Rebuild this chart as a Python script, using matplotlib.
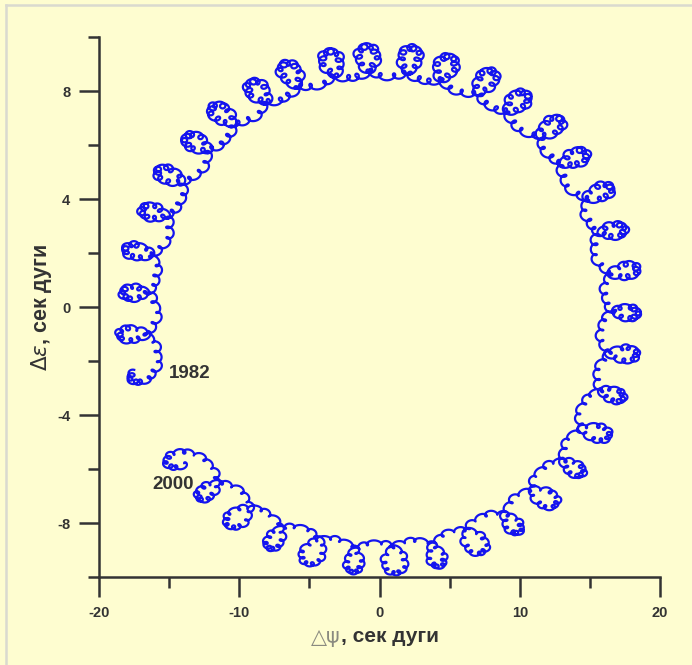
import matplotlib.pyplot as plt
from matplotlib.ticker import MultipleLocator
import numpy as np

# Nutation series terms (IAU 1980): multipliers of l, l', F, D, Omega
# and amplitudes in 0.0001 arcsec for longitude (psi) and obliquity (eps)
arg_l = [0, 0, 0, 0, 0, 0, 0, 0, 1, 0, 1, 1, -1, 0, 1, -1, -1, 1]
arg_lp = [0, 0, 0, 1, 1, -1, 0, 0, 0, 0, 0, 0, 0, 0, 0, 0, 0, 0]
arg_F = [0, 0, 2, 0, 2, 2, 2, 2, 0, 2, 2, 0, 2, 0, 0, 0, 2, 2]
arg_D = [0, 0, -2, 0, -2, -2, -2, 0, 0, 0, 0, -2, 0, 2, 0, 0, 2, 0]
arg_Om = [1, 2, 2, 0, 2, 2, 1, 2, 0, 1, 2, 0, 2, 0, 1, 1, 2, 1]
psi_amp = [-171996, 2062, -13187, 1426, -517, 217, 129, -2274, 712, -386,
           -301, -158, 123, 63, 63, -58, -59, -51]
eps_amp = [92025, -895, 5736, 54, 224, -95, -70, 977, -7, 200,
           129, -1, -53, -2, -33, 32, 26, 27]

year_start = 1982.3
year_end = 2000.0

# fundamental arguments at J2000 and rates (deg, deg per century)
fund0 = np.array([134.96340251, 357.52910918, 93.27209062, 297.85019547, 125.04455501])
fund_rate = np.array([477198.8675605, 35999.0502911, 483202.0174577, 445267.1114469, -1934.1362619])

years = np.arange(year_start, year_end, 0.05 / 365.25)
T = (years - 2000.0) / 100.0
fund = np.radians(fund0[:, None] + fund_rate[:, None] * T[None, :])

dpsi = np.zeros_like(T)
deps = np.zeros_like(T)
for i in range(len(psi_amp)):
    arg = (arg_l[i] * fund[0] + arg_lp[i] * fund[1] + arg_F[i] * fund[2]
           + arg_D[i] * fund[3] + arg_Om[i] * fund[4])
    dpsi += psi_amp[i] * 1e-4 * np.sin(arg)
    deps += eps_amp[i] * 1e-4 * np.cos(arg)

plt.rcParams['font.family'] = ['Liberation Sans', 'DejaVu Sans']
plt.rcParams['axes.unicode_minus'] = False

bg = '#fefdd0'
ink = '#333333'

fig = plt.figure(figsize=(6.92, 6.65), dpi=100, facecolor=bg)
ax = fig.add_axes([0.143, 0.132, 0.811, 0.812], facecolor=bg)

# thin grey frame on the left and top edges
fig.add_artist(plt.Line2D([0.008, 0.008], [0.0, 0.992], color='#dadacf', lw=1.8, transform=fig.transFigure))
fig.add_artist(plt.Line2D([0.008, 1.0], [0.992, 0.992], color='#dadacf', lw=1.8, transform=fig.transFigure))

ax.plot(dpsi, deps, color='#1414ee', lw=1.6)

ax.text(-13.5, -2.45, '1982', fontsize=13.5, fontweight='bold', color=ink, ha='center', va='center')
ax.text(-14.7, -6.55, '2000', fontsize=13.5, fontweight='bold', color=ink, ha='center', va='center')

ax.set_xlim(-20, 20)
ax.set_ylim(-10, 10)
ax.xaxis.set_major_locator(MultipleLocator(10))
ax.xaxis.set_minor_locator(MultipleLocator(5))
ax.set_yticks([-10, -6, -2, 2, 6, 10], minor=True)
ax.set_yticks([-8, -4, 0, 4, 8])

for side in ['top', 'right']:
    ax.spines[side].set_visible(False)
for side in ['left', 'bottom']:
    ax.spines[side].set_linewidth(1.8)
    ax.spines[side].set_color(ink)

ax.tick_params(which='major', length=14.5, width=1.8, color=ink, direction='out', pad=6,
               labelsize=10.5, labelcolor=ink)
ax.tick_params(which='minor', length=8, width=1.8, color=ink, direction='out')
for lab in ax.get_xticklabels() + ax.get_yticklabels():
    lab.set_fontweight('bold')

# x label: thin grey "△ψ" followed by the bold unit text
fig.text(341 / 692, 1 - 637 / 665, '△ψ', fontsize=15, color='#8a8a80', ha='right', va='center',
         family=['DejaVu Sans'])
fig.text(341 / 692, 1 - 637 / 665, ', сек дуги', fontsize=15, fontweight='bold', color=ink,
         ha='left', va='center')
ax.set_ylabel(r'$\Delta\varepsilon$, сек дуги', fontsize=15.5, fontweight='bold', color=ink, labelpad=2)

fig.savefig('out.png', dpi=100, facecolor=bg)
